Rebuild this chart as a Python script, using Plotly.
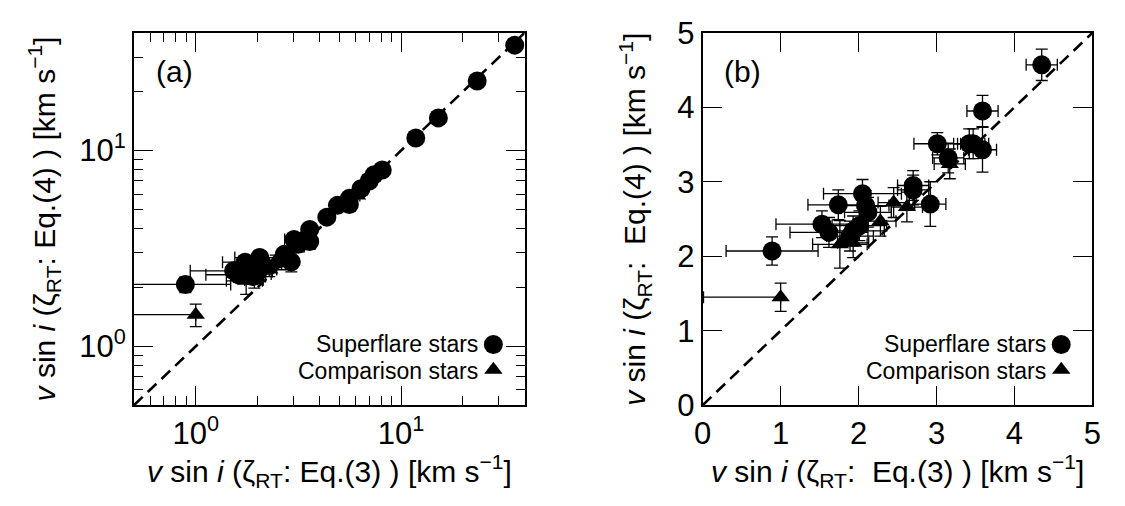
import math
import plotly.graph_objects as go

# ---------------- data ----------------
# Superflare stars: vsini (Eq.3), vsini (Eq.4) and errors
sf_x  = [0.89, 1.53, 1.62, 1.74, 2.05, 2.09, 2.12, 2.01, 1.93, 1.89,
         2.70, 2.70, 2.92, 3.01, 3.15, 3.42, 3.47, 3.59, 3.59, 4.35,
         4.90, 5.60, 5.60, 6.38, 7.00, 7.39, 8.10, 11.8, 15.2, 23.5, 35.8]
sf_y  = [2.07, 2.43, 2.32, 2.69, 2.84, 2.68, 2.59, 2.41, 2.34, 2.27,
         2.95, 2.89, 2.70, 3.51, 3.32, 3.51, 3.51, 3.43, 3.95, 4.57,
         5.25, 5.70, 5.30, 6.39, 7.00, 7.53, 7.96, 11.6, 14.7, 22.7, 34.6]
sf_ex = [0.59, 0.59, 0.50, 0.39, 0.50, 0.30, 0.30, 0.35, 0.40, 0.30,
         0.20, 0.20, 0.20, 0.30, 0.20, 0.20, 0.20, 0.18, 0.20, 0.20,
         0.20, 0.20, 0.20, 0.20, 0.20, 0.20, 0.20, 0.20, 0.20, 0.20, 0.20]
sf_ey = [0.19, 0.18, 0.20, 0.20, 0.19, 0.20, 0.20, 0.20, 0.20, 0.20,
         0.20, 0.20, 0.30, 0.15, 0.20, 0.20, 0.20, 0.30, 0.21, 0.21,
         0.20, 0.20, 0.20, 0.20, 0.20, 0.20, 0.20, 0.20, 0.20, 0.20, 0.20]

# Comparison stars
cs_x        = [1.00, 1.76, 1.93, 2.28, 2.45, 2.62, 3.17, 6.10]
cs_y        = [1.45, 2.16, 2.18, 2.47, 2.72, 2.66, 3.24, 5.90]
cs_ex_minus = [0.99, 0.35, 0.20, 0.20, 0.20, 0.20, 0.20, 0.20]
cs_ex_plus  = [0.00, 0.35, 0.20, 0.20, 0.20, 0.20, 0.20, 0.20]
cs_ey       = [0.19, 0.32, 0.20, 0.20, 0.20, 0.20, 0.20, 0.20]

a_range = [0.5, 40.0]
b_range = [0.0, 5.0]
a_ticks = [1, 10]
a_ticktext = ["10<sup>0</sup>", "10<sup>1</sup>"]
a_minor = [0.6, 0.7, 0.8, 0.9, 2, 3, 4, 5, 6, 7, 8, 9, 20, 30]
b_ticks = [0, 1, 2, 3, 4, 5]

legend_labels = ["Superflare stars", "Comparison stars"]

# ---------------- layout geometry ----------------
W, H = 1125, 506
FONT = "Liberation Sans, Arial, sans-serif"
A_X = [127 / W, 524 / W]
B_X = [705 / W, 1101 / W]
Y_DOM = [(H - 417) / H, (H - 17) / H]

fig = go.Figure()

err_style = dict(color="black", thickness=1.3, width=6)

def add_panel(xa, ya, rng):
    # y = x reference line
    fig.add_trace(go.Scatter(x=rng, y=rng, mode="lines", xaxis=xa, yaxis=ya,
                             line=dict(color="black", width=2.6, dash="12px,7px"),
                             showlegend=False, hoverinfo="skip"))
    fig.add_trace(go.Scatter(
        x=sf_x, y=sf_y, mode="markers", xaxis=xa, yaxis=ya, showlegend=False,
        marker=dict(symbol="circle", size=19, color="black"),
        error_x=dict(type="data", array=sf_ex, **err_style),
        error_y=dict(type="data", array=sf_ey, **err_style)))
    fig.add_trace(go.Scatter(
        x=cs_x, y=cs_y, mode="markers", xaxis=xa, yaxis=ya, showlegend=False,
        marker=dict(symbol="triangle-up", size=16, color="black"),
        error_x=dict(type="data", symmetric=False, array=cs_ex_plus,
                     arrayminus=cs_ex_minus, **err_style),
        error_y=dict(type="data", array=cs_ey, **err_style)))

add_panel("x", "y", a_range)
add_panel("x2", "y2", b_range)

# legend keys on overlay unit axes
for xa, ya in [("x3", "y3"), ("x4", "y4")]:
    fig.add_trace(go.Scatter(x=[0.92], y=[0.163], mode="markers", xaxis=xa, yaxis=ya,
                             marker=dict(symbol="circle", size=19, color="black"),
                             showlegend=False, hoverinfo="skip"))
    fig.add_trace(go.Scatter(x=[0.92], y=[0.095], mode="markers", xaxis=xa, yaxis=ya,
                             marker=dict(symbol="triangle-up", size=16, color="black"),
                             showlegend=False, hoverinfo="skip"))

tickfont = dict(family=FONT, size=31, color="black")
common = dict(showline=True, linecolor="black", linewidth=2, mirror="allticks",
              ticks="inside", ticklen=19, tickwidth=1.3, tickcolor="black",
              showgrid=False, zeroline=False, tickfont=tickfont,
              ticklabeloverflow="allow")
minor = dict(tickvals=a_minor, ticks="inside", ticklen=9, tickwidth=1.3,
             tickcolor="black", showgrid=False)

fig.update_layout(
    width=W, height=H, margin=dict(l=0, r=0, t=0, b=0),
    paper_bgcolor="white", plot_bgcolor="white", showlegend=False,
    xaxis=dict(domain=A_X, anchor="y", type="log",
               range=[math.log10(a_range[0]), math.log10(a_range[1])],
               tickmode="array", tickvals=a_ticks, ticktext=a_ticktext,
               minor=minor, **common),
    yaxis=dict(domain=Y_DOM, anchor="x", type="log",
               range=[math.log10(a_range[0]), math.log10(a_range[1])],
               tickmode="array", tickvals=a_ticks, ticktext=a_ticktext,
               minor=minor, **common),
    xaxis2=dict(domain=B_X, anchor="y2", range=b_range,
                tickmode="array", tickvals=b_ticks, **common),
    yaxis2=dict(domain=Y_DOM, anchor="x2", range=b_range,
                tickmode="array", tickvals=b_ticks, **common),
    xaxis3=dict(overlaying="x", anchor="y3", range=[0, 1], visible=False),
    yaxis3=dict(overlaying="y", anchor="x3", range=[0, 1], visible=False),
    xaxis4=dict(overlaying="x2", anchor="y4", range=[0, 1], visible=False),
    yaxis4=dict(overlaying="y2", anchor="x4", range=[0, 1], visible=False),
)

title_font = dict(family=FONT, size=30, color="black")
xt_a = "<i>v</i> sin <i>i</i> (ζ<sub>RT</sub>: Eq.(3) ) [km s<sup>−1</sup>]"
yt_a = "<i>v</i> sin <i>i</i> (ζ<sub>RT</sub>: Eq.(4) ) [km s<sup>−1</sup>]"
xt_b = "<i>v</i> sin <i>i</i> (ζ<sub>RT</sub>:\u00a0 Eq.(3) ) [km s<sup>−1</sup>]"
yt_b = "<i>v</i> sin <i>i</i> (ζ<sub>RT</sub>:\u00a0 Eq.(4) ) [km s<sup>−1</sup>]"

ann = []
for dom, xt, yt, yx in [(A_X, xt_a, yt_a, 36), (B_X, xt_b, yt_b, 636)]:
    cx = (dom[0] + dom[1]) / 2
    ann.append(dict(xref="paper", yref="paper", x=cx, y=(H - 488) / H, text=xt,
                    showarrow=False, xanchor="center", yanchor="middle", font=title_font))
    ann.append(dict(xref="paper", yref="paper", x=yx / W, y=(Y_DOM[0] + Y_DOM[1]) / 2,
                    text=yt, textangle=-90, showarrow=False,
                    xanchor="center", yanchor="middle", font=title_font))

leg_font = dict(family=FONT, size=23, color="black")
for xr, yr, lab in [("x domain", "y domain", "(a)"), ("x2 domain", "y2 domain", "(b)")]:
    ann.append(dict(xref=xr, yref=yr, x=0.05, y=0.897, text=lab, showarrow=False,
                    xanchor="left", yanchor="middle",
                    font=dict(family=FONT, size=30, color="black")))
    ann.append(dict(xref=xr, yref=yr, x=0.885, y=0.163, text=legend_labels[0],
                    showarrow=False, xanchor="right", yanchor="middle", font=leg_font))
    ann.append(dict(xref=xr, yref=yr, x=0.885, y=0.092, text=legend_labels[1],
                    showarrow=False, xanchor="right", yanchor="middle", font=leg_font))

fig.update_layout(annotations=ann)
fig.write_html("out.html")
